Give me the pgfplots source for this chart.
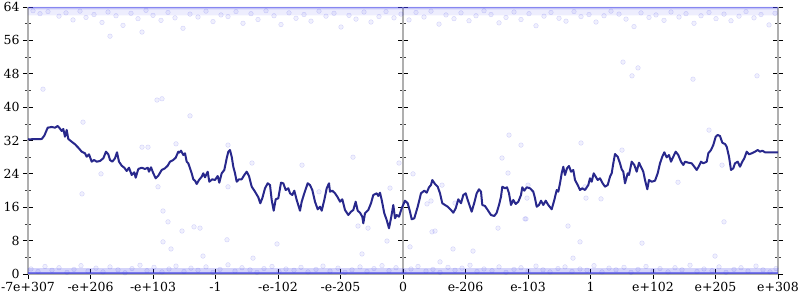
\documentclass[border=0pt]{standalone}
\usepackage{pgfplots}
\pgfplotsset{compat=1.18}
\usepackage{fontspec}
\setmainfont{DejaVu Serif}
\usetikzlibrary{calc}
\definecolor{linec}{RGB}{40,40,140}
\definecolor{ptc}{RGB}{60,60,230}
\definecolor{axc}{RGB}{175,175,175}
\begin{document}
\begin{tikzpicture}
\pgfplotsset{common/.style={width=750pt,height=267pt,scale only axis,
  ymin=0,ymax=64, enlargelimits=false,
  ytick={0,8,...,64}, minor y tick num=1,
  tick align=center, major tick length=10pt, minor tick length=6pt,
  major tick style={black, line width=0.8pt},
  minor tick style={black!75, line width=0.6pt},
  axis line style={axc, line width=2pt},
  tick label style={font=\fontsize{12.5}{14}\selectfont},
  /pgf/number format/assume math mode=true}}
% middle axis line with its ticks
\begin{axis}[common, xmin=-375, xmax=375, axis x line=none, axis y line*=center,
  yticklabels={}, xtick=\empty]
\end{axis}
\begin{axis}[common, xmin=0, xmax=750, axis x line*=bottom, axis y line*=box,
  ytick pos=both, yticklabel pos=left,
  xtick={0,62.5,125,187.5,250,312.5,375,437.5,500,562.5,625,687.5,750},
  xticklabels={-7e+307,-e+206,-e+103,-1,-e-102,-e-205,0,e-206,e-103,1,e+102,e+205,e+308},
  clip=false]
\coordinate (bl) at (rel axis cs:0,0);
\coordinate (tr) at (rel axis cs:1,1);
% dense bands of samples
\addplot[draw=none, fill=ptc, fill opacity=0.30] coordinates {(0,63.4)(750,63.4)(750,64)(0,64)(0,63.4)};
\addplot[draw=none, fill=ptc, fill opacity=0.09] coordinates {(0,62.0)(750,62.0)(750,63.4)(0,63.4)(0,62.0)};
\addplot[draw=none, fill=ptc, fill opacity=0.22] coordinates {(0,0)(750,0)(750,1.4)(0,1.4)(0,0)};
\addplot[ptc, opacity=0.6, line width=1.8pt] coordinates {(0,0.2)(750,0.2)};
\addplot[ptc, opacity=0.45, line width=1.2pt] coordinates {(0,63.85)(750,63.85)};
% scattered samples
\addplot[only marks, mark=*, mark size=2.3pt, mark options={draw=ptc, fill=ptc, draw opacity=0.2, fill opacity=0.08}] coordinates {
(5,63.1)(12,62.4)(20,62.9)(31,61.8)(38,62.6)(45,60.9)(52,63)(58,61.5)(66,62.2)(74,60.3)(80,62.8)(88,61.9)(95,59.6)(103,62.5)(110,61.2)(118,63.2)(125,62)(133,60.8)(140,62.7)(147,61.4)(155,58.9)(162,62.3)(170,61.6)(178,63)(185,60.5)(193,62.1)(200,61.7)(208,62.9)(215,60.1)(223,62.4)(230,61)(238,63.1)(246,61.9)(253,59.8)(261,62.6)(268,61.3)(276,62.2)(283,60.6)(291,63)(298,61.8)(306,62.5)(313,59.2)(321,62)(328,61.1)(336,62.8)(343,60.4)(351,61.7)(358,62.9)(366,61.4)(373,62.3)(381,60.9)(388,62.7)(396,61.6)(403,63)(411,59.9)(418,62.1)(426,61.2)(433,62.6)(441,60.7)(448,61.9)(456,63.1)(463,62.2)(471,60.2)(478,61.5)(486,62.8)(493,61)(501,62.4)(508,59.5)(516,61.8)(523,62.7)(531,61.3)(538,60.6)(546,62.9)(553,61.7)(561,62.2)(568,60.4)(576,61.9)(583,63)(591,62.3)(598,61.1)(606,59.3)(613,62.6)(621,61.5)(628,62.1)(636,60.8)(643,62.8)(651,61.6)(658,62.4)(666,60.1)(673,61.9)(681,62.7)(688,61.2)(696,62.3)(703,60.7)(711,61.8)(718,62.9)(726,61.4)(733,62.2)(741,59.7)(747,62.5)
(82,57)(114,58)(595,50.8)(610,49.4)(604,47.5)(729,47.5)(665,46.7)(15,44.3)(129,41.7)(134,42)(162,37.9)(55,36.4)
(114,30.4)(120,30.4)(148,31.2)(73,24)(54,19.2)(130,20.9)(135,15.1)(140,12.5)(135,7.7)(143,6)(154,10.3)(166,11.3)
(325,28)(224,26.6)(274,26.1)(199,8.2)(249,7.2)(175,4.3)(225,3.8)(334,4.8)(359,7.9)(382,6.5)
(385,24)(480,24.2)(474,27.8)(404,10.1)(407,10.3)(425,6)(445,5.5)(470,11)(498,13.2)(540,11.5)(552,7.7)(545,3.8)(412,2.9)
(650,22)(696,12.5)(614,7.4)(687,4.3)(200,30.9)(200,20.9)(172,11)(291,19.7)
(371,26.6)(362,20.6)(414,21.3)(403,17.5)(399,16.8)(330,11.5)(340,11)(427,17)
(481,33.3)(493,30.9)(553,31.4)(500,21.3)(499,18.2)(557,20.9)(558,18.2)(573,18)(497,13.2)(594,29.7)(681,34.5)(694,26.1)
(3,1.2)(10,0.6)(17,1.8)(24,0.9)(31,1.5)(39,0.4)(46,1.1)(53,2)(60,0.7)(68,1.4)(75,0.5)(82,1.7)(90,1)(97,0.3)(104,1.3)(112,2.1)(119,0.8)(126,1.6)(134,0.5)(141,1.2)(148,1.9)(156,0.6)(163,1.4)(170,0.9)(178,1.7)(185,0.4)(192,1.1)(200,2.2)(207,0.7)(214,1.5)(222,1)(229,0.4)(236,1.3)(244,1.8)(251,0.6)(258,1.2)(266,0.9)(273,1.6)(280,0.5)(288,1.1)(295,1.9)(302,0.7)(310,1.4)(317,0.4)(324,1)(332,1.7)(339,0.6)(346,1.3)(354,2)(361,0.8)(368,1.5)(376,0.5)(383,1.2)(390,1.8)(398,0.7)(405,1.1)(412,0.4)(420,1.6)(427,0.9)(434,1.4)(442,2.1)(449,0.6)(456,1.2)(464,0.8)(471,1.7)(478,0.4)(486,1.1)(493,1.5)(500,0.7)(508,1.9)(515,1)(522,0.5)(530,1.3)(537,1.7)(544,0.6)(552,1.2)(559,0.9)(566,2)(574,0.5)(581,1.4)(588,1)(596,1.6)(603,0.4)(610,1.1)(618,1.8)(625,0.7)(632,1.3)(640,0.5)(647,1.5)(654,1)(662,2.1)(669,0.6)(676,1.2)(684,0.8)(691,1.7)(698,0.4)(706,1.1)(713,1.5)(720,0.7)(728,1.9)(735,1)(742,0.5)(748,1.3)
};
% the running line
\addplot[linec, line width=2pt, line join=round] coordinates {
(0,32.3)(2,32.29)(13.7,32.36)(16.3,33.15)(19.7,35.07)(23.7,35.24)(27,35.07)(29.7,35.48)(31.7,34.92)(33.7,34.28)(35.3,34.76)(37,32.91)(38.7,34.52)(40.3,32.36)(43.7,31.71)(47,31.09)(50.3,30.27)(53.7,29.32)(57,28.93)(58.7,28.12)(61,28.69)(63.7,26.92)(66,27.33)(68.7,26.92)(72,27.09)(75.3,27.73)(78,29.32)(80.3,28.69)(82,27.33)(84.3,26.92)(87,27.73)(89,29.17)(91,26.92)(93.7,25.96)(96.3,25.48)(98.7,24.69)(101,25.48)(103.7,23.73)(106.3,24.38)(107.7,23.08)(110.3,25.17)(113.7,25.48)(117,25.17)(119.7,25.48)(121,24.52)(123,25.58)(125.3,24.14)(127.7,22.94)(130.3,23.56)(133.7,24.93)(137,25.34)(139.7,25.96)(142,26.92)(145.3,27.33)(147.7,27.88)(150.3,29.32)
(151,29.08)(153,29.56)(155.3,28.52)(157,28.93)(158.7,26.92)(160.3,26.53)(162,25.34)(163.7,24.14)(165.3,22.70)(167,22.36)(168.7,21.57)(171,22.53)(173.7,23.32)(175.3,24.14)(177,23.18)(179.7,24.52)(181.3,22.12)(184.3,22.70)(187,22.53)(189.7,23.49)(191.3,21.88)(193.7,24.14)(196.3,24.93)(198.7,27.73)(200.3,29.32)(202,29.72)(203.7,28.12)(205.3,25.72)(207,24.14)(208.7,22.12)(211,22.70)(213.7,22.70)(216.3,23.73)(218.7,24.52)(221,23.49)(223.7,20.93)(227,19.73)(230.3,18.39)(232.3,16.95)(234.3,18.15)(237,20.54)(239.7,21.74)(242,21.33)(243.7,17.74)(245.7,15.17)(247.7,17.91)(250.3,18.15)(253,21.88)(255.3,21.74)(257.7,20.13)(260.3,20.54)(262,19.34)(264.3,18.94)(266.3,19.97)(268.7,17.74)(272,15.17)(273.7,17.33)(276.3,19.34)(279.7,21.74)(282,21.33)(284.3,20.13)(287,17.33)(289.7,15.51)(292,16.13)(293.7,15.17)(296.3,17.74)(298.7,20.54)(301,21.74)
(302,19.73)(304.3,19.97)(307,19.34)(309.7,18.39)(312,17.33)(314.3,17.91)(317,15.34)(320.3,14.14)(323,14.93)(325.3,15.34)(327.7,17.33)(329.7,15.17)(332,14.69)(334.3,13.73)(335.3,12.15)(337,14.55)(340.3,15.34)(343,16.95)(345.3,18.94)(348.7,19.34)(350.3,18.70)(352,19.49)(353.7,17.74)(356.3,14.55)(358.7,12.94)(361,10.95)(363,13.35)(365.3,16.54)(367,13.35)(368.7,14.14)(371,13.73)(373.7,15.75)(377,17.57)(379.7,16.95)(382,14.93)(383.7,13.11)(386.3,13.35)(389.7,16.13)(393,19.34)(396.3,19.97)(398.7,19.49)(401,20.78)(403,21.33)(404.3,22.53)(407,21.57)(409.7,20.93)(412,19.34)(414.3,16.95)(417,16.54)(419.7,16.13)(423,15.34)(425.3,14.69)(427.7,15.75)(430.3,17.91)(433,16.95)(435.3,18.94)(437.7,19.34)(439.7,17.74)(442,16.13)(443.7,14.93)(446.3,17.09)(448.7,19.34)(451,20.30)
(453,19.73)(454.3,16.54)(457,16.30)(459.7,15.34)(463,14.14)(466.3,13.90)(468.7,14.69)(471,16.54)(473,18.53)(474.3,20.93)(477,20.54)(479,20.78)(481,19.34)(483,16.54)(485.3,17.74)(487.7,16.78)(490.3,17.33)(493,18.94)(494.3,20.78)(496.3,19.97)(498.7,20.78)(502,20.54)(505.3,19.73)(507,18.15)(508.7,16.13)(511,16.54)(513,17.57)(515.3,16.54)(517.7,17.57)(520.3,16.54)(523.7,15.51)(526.3,17.74)(528.7,20.13)(530.3,19.73)(532,21.74)(533.7,24.14)(535.3,25.72)(537,23.73)(539,25.34)(541,25.89)(543,24.52)(545.3,24.93)(547,22.53)(549.7,21.33)(552,20.13)(554.3,20.54)(557,20.13)(560.3,21.33)(562,22.94)(563.7,22.12)(565.7,24.14)(567.7,23.32)(569.7,22.53)(572,22.94)(574.3,21.88)(577,20.93)(579.7,21.33)(582,23.32)(583.7,24.14)(585.3,26.53)(587,28.76)(589.7,28.12)(592,26.53)(593.7,25.10)(595.3,24.52)(597,21.74)(599.7,24.14)
(601,23.73)(603.7,26.92)(606.3,26.13)(608.7,24.52)(611,26.68)(613.7,25.34)(615.3,24.52)(617,22.53)(619.3,20.30)(621,22.53)(623.7,22.12)(627,22.36)(629.7,24.14)(632,26.53)(634.3,28.12)(636.3,29.17)(638.7,27.97)(641,28.52)(643,26.92)(645.3,28.12)(647.7,29.32)(650.3,28.52)(653,26.92)(655.3,26.13)(657,26.92)(660.3,26.68)(663.7,26.53)(666.3,25.72)(668.7,24.93)(671,25.89)(673,26.92)(675.3,26.53)(678.7,26.92)(680.3,28.93)(683,29.72)(685.3,30.92)(687.7,32.91)(689.7,33.32)(692,33.08)(694.3,31.47)(697,31.16)(698.7,30.51)(701,28.12)(703,24.93)(705.3,25.34)(707,26.53)(709.7,26.92)(712,25.72)(714.3,26.92)(716.3,27.73)(718.7,29.32)(721,28.69)(723.7,28.93)(727,29.32)(729.7,29.72)(732,29.32)(734.3,29.56)(737,29.17)(740.3,29.17)(750,29.17)
};
\end{axis}
\pgfresetboundingbox
\path[use as bounding box] ($(bl)+(-28pt,-26pt)$) rectangle ($(tr)+(22pt,7pt)$);
\end{tikzpicture}
\end{document}
